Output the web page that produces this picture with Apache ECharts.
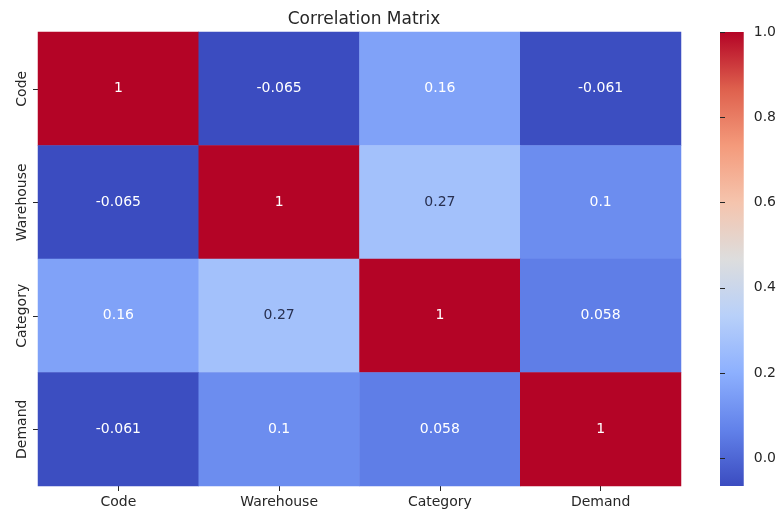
<!DOCTYPE html>
<html>
<head>
<meta charset="utf-8">
<script src="https://cdn.jsdelivr.net/npm/echarts@6/dist/echarts.min.js"></script>
<style>
  html, body { margin: 0; padding: 0; background: #ffffff; }
  #chart { width: 779px; height: 513px; }
</style>
</head>
<body>
<div id="chart"></div>
<script>
// Variables of the correlation matrix (rows top to bottom, columns left to right)
const variables = ['Code', 'Warehouse', 'Category', 'Demand'];

// Correlation coefficients, one row per variable
const codeRow      = [1, -0.065, 0.16, -0.061];
const warehouseRow = [-0.065, 1, 0.27, 0.1];
const categoryRow  = [0.16, 0.27, 1, 0.058];
const demandRow    = [-0.061, 0.1, 0.058, 1];
const matrixRows = [codeRow, warehouseRow, categoryRow, demandRow];

// Colour bar range and its tick labels
const colorMin = -0.065;
const colorMax = 1.0;
const colorbarTicks = [0.0, 0.2, 0.4, 0.6, 0.8, 1.0];

// coolwarm colour ramp
const coolwarm = ['#3b4cc0', '#6282ea', '#8db0fe', '#b8d0f9', '#dddddd',
                  '#f5c4ad', '#f49a7b', '#de604d', '#b40426'];

const textDark = '#262626';
const font = 'DejaVu Sans';

// Light cells get dark annotations, dark cells get white ones
function annotColor(v) {
  return (v > 0.2 && v < 0.75) ? '#283050' : '#ffffff';
}

const cells = [];
matrixRows.forEach((row, r) => {
  row.forEach((v, c) => {
    cells.push({
      value: [c, r, v],
      label: { color: annotColor(v) }
    });
  });
});

// Vertical gradient for the colour bar (bottom = min, top = max)
const colorbarFill = new echarts.graphic.LinearGradient(0, 1, 0, 0,
  coolwarm.map((c, i) => ({ offset: i / (coolwarm.length - 1), color: c })));

const chart = echarts.init(document.getElementById('chart'), null, { renderer: 'canvas' });

chart.setOption({
  animation: false,
  backgroundColor: '#ffffff',
  title: {
    text: 'Correlation Matrix',
    left: 359,
    top: 6,
    textAlign: 'center',
    textStyle: { fontFamily: font, fontSize: 17, fontWeight: 'normal', color: textDark }
  },
  grid: [
    { left: 38, top: 32, width: 643, height: 454 },
    { left: 720, top: 32, width: 25, height: 454, show: true,
      backgroundColor: colorbarFill, borderWidth: 0 }
  ],
  xAxis: [
    {
      type: 'category',
      gridIndex: 0,
      data: variables,
      position: 'bottom',
      axisLine: { show: false },
      axisTick: { show: true, alignWithLabel: true, length: 5, lineStyle: { color: textDark } },
      axisLabel: { fontFamily: font, fontSize: 14, color: textDark, margin: 9 },
      splitLine: { show: false }
    },
    {
      type: 'value',
      gridIndex: 1,
      show: false
    }
  ],
  yAxis: [
    {
      type: 'category',
      gridIndex: 0,
      data: variables,
      inverse: true,
      axisLine: { show: false },
      axisTick: { show: true, alignWithLabel: true, length: 5, lineStyle: { color: textDark } },
      axisLabel: { fontFamily: font, fontSize: 14, color: textDark, rotate: 90, margin: 9 },
      splitLine: { show: false }
    },
    {
      type: 'value',
      gridIndex: 1,
      position: 'right',
      min: colorMin,
      max: colorMax,
      axisLine: { show: false },
      axisTick: { show: true, length: 5, customValues: colorbarTicks, lineStyle: { color: textDark } },
      axisLabel: {
        fontFamily: font, fontSize: 14, color: textDark, margin: 10,
        customValues: colorbarTicks,
        formatter: v => v.toFixed(1)
      },
      splitLine: { show: false }
    }
  ],
  visualMap: {
    type: 'continuous',
    show: false,
    seriesIndex: 0,
    min: colorMin,
    max: colorMax,
    inRange: { color: coolwarm }
  },
  series: [{
    type: 'heatmap',
    xAxisIndex: 0,
    yAxisIndex: 0,
    data: cells,
    label: {
      show: true,
      fontFamily: font,
      fontSize: 14,
      formatter: p => String(p.value[2])
    },
    itemStyle: { borderWidth: 0 },
    emphasis: { disabled: true }
  }]
});
</script>
</body>
</html>
